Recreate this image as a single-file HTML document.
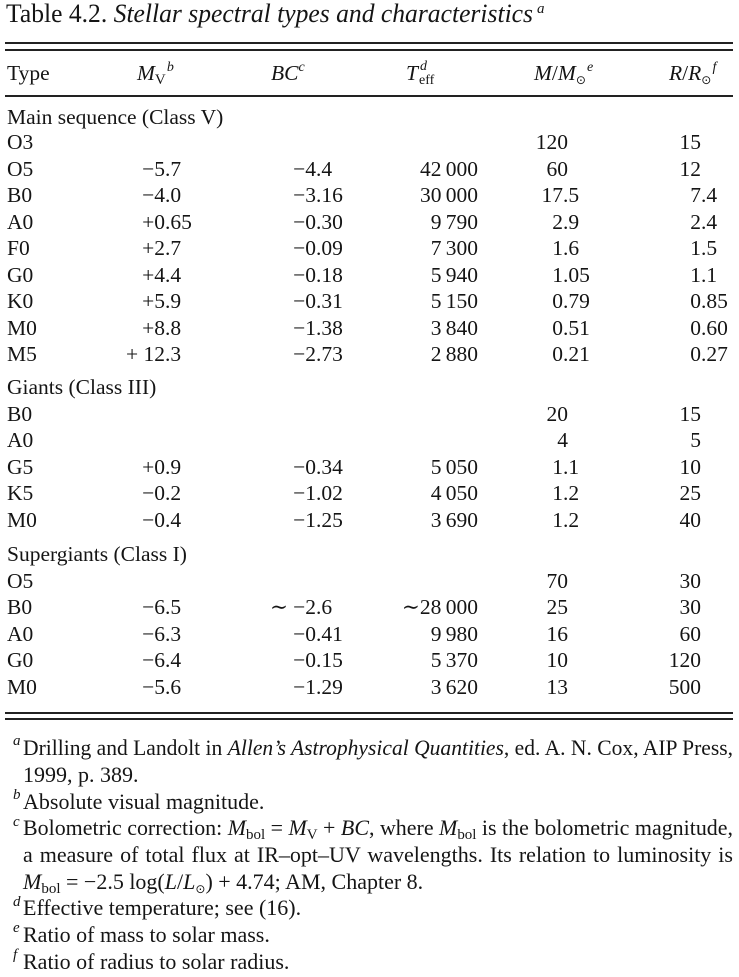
<!DOCTYPE html>
<html><head><meta charset="utf-8">
<style>
html,body{margin:0;padding:0;background:#fff}
#p{position:relative;width:739px;height:977px;overflow:hidden;background:#fff;color:#151515;font-family:"Liberation Serif","DejaVu Serif",serif}
.row{position:absolute;left:0;width:739px;height:0}
.t{position:absolute;top:0;font-size:21.5px;line-height:1;white-space:nowrap}
.f{position:absolute;font-size:22px;line-height:1;white-space:nowrap;transform-origin:0 0}
.m{position:absolute;font-size:15px;line-height:1;font-style:italic}
.sb{font-size:15px;position:relative;top:4px}
.sp{font-size:14px;position:relative;top:-9px}
.o{font-family:"DejaVu Sans",sans-serif;font-size:12px}
.rule{position:absolute;left:5px;width:728px;height:1.5px;background:#222}
</style></head><body><div id="p">

<div class="f fit" id="title" style="font-size:26px;left:6px;top:1px;--w:527">Table 4.2. <i>Stellar spectral types and characteristics</i></div>
<div class="m" style="left:537px;top:2px">a</div>

<div class="rule" style="top:42px"></div>
<div class="rule" style="top:49px"></div>

<div class="row" style="top:63px">
<div class="t" style="left:7px">Type</div>
<div class="t" style="left:137px"><i>M</i><span class="sb">V</span><span class="sp"><i>&#8202;b</i></span></div>
<div class="t" style="left:271px"><i>BC</i><span class="sp"><i>c</i></span></div>
<div class="t" style="left:406px"><i>T</i></div>
</div>
<div class="m" style="left:420px;top:60px;font-size:14px">d</div>
<div class="f" style="left:419px;top:74px;font-size:14px">eff</div>
<div class="row" style="top:63px">
<div class="t" style="left:534px"><i>M</i>/<i>M</i><span class="sb o">&#8857;</span><span class="sp"><i>&#8202;e</i></span></div>
<div class="t" style="left:669px"><i>R</i>/<i>R</i><span class="sb o">&#8857;</span><span class="sp"><i>&#8202;f</i></span></div>
</div>

<div class="rule" style="top:95px"></div>

<div class="row" style="top:107px"><div class="t" style="left:7px">Main sequence (Class V)</div></div>

<div class="row" style="top:132px">
<div class="t" style="left:7px">O3</div>
<div class="t" style="right:171px">120</div>
<div class="t" style="right:38px">15</div>
</div>

<div class="row" style="top:158.5px">
<div class="t" style="left:7px">O5</div>
<div class="t" style="right:574px">&minus;5</div><div class="t" style="left:165px">.7</div>
<div class="t" style="right:423px">&minus;4</div><div class="t" style="left:316px">.4</div>
<div class="t" style="right:261px">42&thinsp;000</div>
<div class="t" style="right:171px">60</div>
<div class="t" style="right:38px">12</div>
</div>

<div class="row" style="top:185px">
<div class="t" style="left:7px">B0</div>
<div class="t" style="right:574px">&minus;4</div><div class="t" style="left:165px">.0</div>
<div class="t" style="right:423px">&minus;3</div><div class="t" style="left:316px">.16</div>
<div class="t" style="right:261px">30&thinsp;000</div>
<div class="t" style="right:176px">17</div><div class="t" style="left:563px">.5</div>
<div class="t" style="right:38px">7</div><div class="t" style="left:701px">.4</div>
</div>

<div class="row" style="top:211.5px">
<div class="t" style="left:7px">A0</div>
<div class="t" style="right:574px">+0</div><div class="t" style="left:165px">.65</div>
<div class="t" style="right:423px">&minus;0</div><div class="t" style="left:316px">.30</div>
<div class="t" style="right:261px">9&thinsp;790</div>
<div class="t" style="right:176px">2</div><div class="t" style="left:563px">.9</div>
<div class="t" style="right:38px">2</div><div class="t" style="left:701px">.4</div>
</div>

<div class="row" style="top:238px">
<div class="t" style="left:7px">F0</div>
<div class="t" style="right:574px">+2</div><div class="t" style="left:165px">.7</div>
<div class="t" style="right:423px">&minus;0</div><div class="t" style="left:316px">.09</div>
<div class="t" style="right:261px">7&thinsp;300</div>
<div class="t" style="right:176px">1</div><div class="t" style="left:563px">.6</div>
<div class="t" style="right:38px">1</div><div class="t" style="left:701px">.5</div>
</div>

<div class="row" style="top:264.5px">
<div class="t" style="left:7px">G0</div>
<div class="t" style="right:574px">+4</div><div class="t" style="left:165px">.4</div>
<div class="t" style="right:423px">&minus;0</div><div class="t" style="left:316px">.18</div>
<div class="t" style="right:261px">5&thinsp;940</div>
<div class="t" style="right:176px">1</div><div class="t" style="left:563px">.05</div>
<div class="t" style="right:38px">1</div><div class="t" style="left:701px">.1</div>
</div>

<div class="row" style="top:291px">
<div class="t" style="left:7px">K0</div>
<div class="t" style="right:574px">+5</div><div class="t" style="left:165px">.9</div>
<div class="t" style="right:423px">&minus;0</div><div class="t" style="left:316px">.31</div>
<div class="t" style="right:261px">5&thinsp;150</div>
<div class="t" style="right:176px">0</div><div class="t" style="left:563px">.79</div>
<div class="t" style="right:38px">0</div><div class="t" style="left:701px">.85</div>
</div>

<div class="row" style="top:317.5px">
<div class="t" style="left:7px">M0</div>
<div class="t" style="right:574px">+8</div><div class="t" style="left:165px">.8</div>
<div class="t" style="right:423px">&minus;1</div><div class="t" style="left:316px">.38</div>
<div class="t" style="right:261px">3&thinsp;840</div>
<div class="t" style="right:176px">0</div><div class="t" style="left:563px">.51</div>
<div class="t" style="right:38px">0</div><div class="t" style="left:701px">.60</div>
</div>

<div class="row" style="top:344px">
<div class="t" style="left:7px">M5</div>
<div class="t" style="left:126px">+</div>
<div class="t" style="right:574px">12</div><div class="t" style="left:165px">.3</div>
<div class="t" style="right:423px">&minus;2</div><div class="t" style="left:316px">.73</div>
<div class="t" style="right:261px">2&thinsp;880</div>
<div class="t" style="right:176px">0</div><div class="t" style="left:563px">.21</div>
<div class="t" style="right:38px">0</div><div class="t" style="left:701px">.27</div>
</div>

<div class="row" style="top:377px"><div class="t" style="left:7px">Giants (Class III)</div></div>

<div class="row" style="top:403.5px">
<div class="t" style="left:7px">B0</div>
<div class="t" style="right:171px">20</div>
<div class="t" style="right:38px">15</div>
</div>

<div class="row" style="top:430px">
<div class="t" style="left:7px">A0</div>
<div class="t" style="right:171px">4</div>
<div class="t" style="right:38px">5</div>
</div>

<div class="row" style="top:456.5px">
<div class="t" style="left:7px">G5</div>
<div class="t" style="right:574px">+0</div><div class="t" style="left:165px">.9</div>
<div class="t" style="right:423px">&minus;0</div><div class="t" style="left:316px">.34</div>
<div class="t" style="right:261px">5&thinsp;050</div>
<div class="t" style="right:176px">1</div><div class="t" style="left:563px">.1</div>
<div class="t" style="right:38px">10</div>
</div>

<div class="row" style="top:483px">
<div class="t" style="left:7px">K5</div>
<div class="t" style="right:574px">&minus;0</div><div class="t" style="left:165px">.2</div>
<div class="t" style="right:423px">&minus;1</div><div class="t" style="left:316px">.02</div>
<div class="t" style="right:261px">4&thinsp;050</div>
<div class="t" style="right:176px">1</div><div class="t" style="left:563px">.2</div>
<div class="t" style="right:38px">25</div>
</div>

<div class="row" style="top:509.5px">
<div class="t" style="left:7px">M0</div>
<div class="t" style="right:574px">&minus;0</div><div class="t" style="left:165px">.4</div>
<div class="t" style="right:423px">&minus;1</div><div class="t" style="left:316px">.25</div>
<div class="t" style="right:261px">3&thinsp;690</div>
<div class="t" style="right:176px">1</div><div class="t" style="left:563px">.2</div>
<div class="t" style="right:38px">40</div>
</div>

<div class="row" style="top:544px"><div class="t" style="left:7px">Supergiants (Class I)</div></div>

<div class="row" style="top:570.5px">
<div class="t" style="left:7px">O5</div>
<div class="t" style="right:171px">70</div>
<div class="t" style="right:38px">30</div>
</div>

<div class="row" style="top:597px">
<div class="t" style="left:7px">B0</div>
<div class="t" style="right:574px">&minus;6</div><div class="t" style="left:165px">.5</div>
<div class="t" style="left:270px">&#8764;</div>
<div class="t" style="right:423px">&minus;2</div><div class="t" style="left:316px">.6</div>
<div class="t" style="right:261px">&#8764;28&thinsp;000</div>
<div class="t" style="right:171px">25</div>
<div class="t" style="right:38px">30</div>
</div>

<div class="row" style="top:623.5px">
<div class="t" style="left:7px">A0</div>
<div class="t" style="right:574px">&minus;6</div><div class="t" style="left:165px">.3</div>
<div class="t" style="right:423px">&minus;0</div><div class="t" style="left:316px">.41</div>
<div class="t" style="right:261px">9&thinsp;980</div>
<div class="t" style="right:171px">16</div>
<div class="t" style="right:38px">60</div>
</div>

<div class="row" style="top:650px">
<div class="t" style="left:7px">G0</div>
<div class="t" style="right:574px">&minus;6</div><div class="t" style="left:165px">.4</div>
<div class="t" style="right:423px">&minus;0</div><div class="t" style="left:316px">.15</div>
<div class="t" style="right:261px">5&thinsp;370</div>
<div class="t" style="right:171px">10</div>
<div class="t" style="right:38px">120</div>
</div>

<div class="row" style="top:676.5px">
<div class="t" style="left:7px">M0</div>
<div class="t" style="right:574px">&minus;5</div><div class="t" style="left:165px">.6</div>
<div class="t" style="right:423px">&minus;1</div><div class="t" style="left:316px">.29</div>
<div class="t" style="right:261px">3&thinsp;620</div>
<div class="t" style="right:171px">13</div>
<div class="t" style="right:38px">500</div>
</div>

<div class="rule" style="top:712px"></div>
<div class="rule" style="top:718px"></div>

<div class="m" style="left:13px;top:734.4px">a</div>
<div class="f jus" style="left:23px;top:736.6px;--w:710">Drilling and Landolt in <i>Allen&rsquo;s Astrophysical Quantities</i>, ed. A. N. Cox, AIP Press,</div>
<div class="f" style="left:23px;top:763.6px">1999, p. 389.</div>
<div class="m" style="left:13px;top:788.4px">b</div>
<div class="f" style="left:23px;top:790.6px">Absolute visual magnitude.</div>
<div class="m" style="left:13px;top:814.9px">c</div>
<div class="f jus" style="left:23px;top:817.1px;--w:710">Bolometric correction: <i>M</i><span class="sb">bol</span> = <i>M</i><span class="sb">V</span> + <i>BC</i>, where <i>M</i><span class="sb">bol</span> is the bolometric magnitude,</div>
<div class="f jus" style="left:23px;top:843.6px;--w:710">a measure of total flux at IR&ndash;opt&ndash;UV wavelengths. Its relation to luminosity is</div>
<div class="f" style="left:23px;top:870.6px"><i>M</i><span class="sb">bol</span> = &minus;2.5 log(<i>L</i>/<i>L</i><span class="sb o">&#8857;</span>) + 4.74; AM, Chapter 8.</div>
<div class="m" style="left:13px;top:894.9px">d</div>
<div class="f" style="left:23px;top:897.1px">Effective temperature; see (16).</div>
<div class="m" style="left:13px;top:921.4px">e</div>
<div class="f" style="left:23px;top:923.6px">Ratio of mass to solar mass.</div>
<div class="m" style="left:13px;top:948.4px">f</div>
<div class="f" style="left:23px;top:950.6px">Ratio of radius to solar radius.</div>

</div>
<script>
(function(){
  function W(el){return parseFloat(getComputedStyle(el).getPropertyValue('--w'));}
  document.querySelectorAll('.fit').forEach(function(el){
    var w=W(el), r=el.getBoundingClientRect().width;
    if(r>0&&w>0){el.style.transformOrigin='0 0';el.style.transform='scaleX('+(w/r)+')';}
  });
  document.querySelectorAll('.jus').forEach(function(el){
    var w=W(el), r=el.getBoundingClientRect().width;
    if(!(r>0&&w>0))return;
    if(r<w){
      var n=(el.textContent.match(/ /g)||[]).length;
      if(n>0)el.style.wordSpacing=((w-r)/n)+'px';
    } else {
      el.style.transform='scaleX('+(w/r)+')';
    }
  });
})();
</script>
</body></html>
